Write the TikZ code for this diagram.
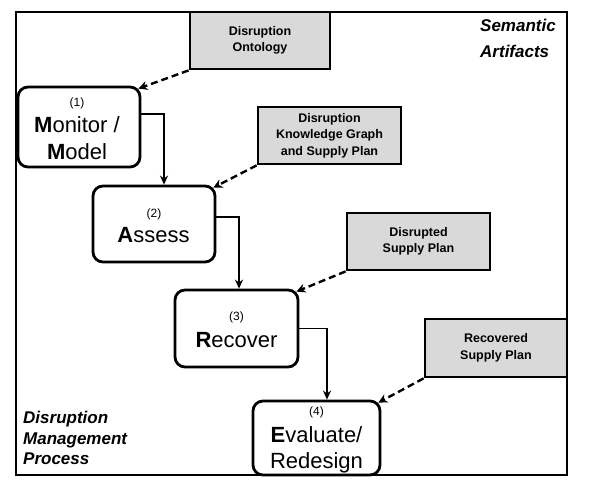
\documentclass[tikz,border=0pt]{standalone}
\usepackage{fontspec}
\setmainfont{Liberation Sans}
\usetikzlibrary{arrows.meta}
\definecolor{artgray}{RGB}{217,217,217}
\tikzset{
  procbox/.style={draw, line width=2.8pt, rounded corners=10pt, rectangle, inner sep=0pt},
  artbox/.style={draw, fill=artgray, line width=2.8pt, rectangle, inner sep=0pt, align=center,
     font=\fontsize{12.5}{16.5}\selectfont\bfseries},
  numtext/.style={anchor=base, inner sep=0pt, font=\fontsize{12}{14}\selectfont},
  proctext/.style={anchor=base, inner sep=0pt, font=\fontsize{22}{26}\selectfont},
  titletext/.style={anchor=base west, inner sep=0pt, font=\fontsize{17}{20}\selectfont\bfseries\itshape},
  flow/.style={-{Stealth[length=9pt,width=8pt]}, line width=1.6pt},
  dflow/.style={-{Stealth[length=9pt,width=9pt]}, line width=2.4pt, dash pattern=on 7pt off 4pt},
  frame/.style={line width=2.8pt}
}
\begin{document}
\begin{tikzpicture}[x=1pt,y=-1pt]
\useasboundingbox (0,0) rectangle (589,484);
% outer frame
\draw[frame] (16,12) rectangle (567,475);
% process boxes
\node[procbox, minimum width=122pt, minimum height=80pt] (mon) at (79,127) {};
\node[procbox, minimum width=122pt, minimum height=76pt] (ass) at (154,224) {};
\node[procbox, minimum width=123pt, minimum height=77pt] (rec) at (236.5,328.5) {};
\node[procbox, minimum width=127pt, minimum height=74pt, fill=white] (eva) at (316.5,438) {};
% process texts
\node[numtext] (mon1) at (77,107) {(1)};
\node[proctext] (mon2) at (77,133) {\textbf{M}onitor /};
\node[proctext] (mon3) at (77,160) {\textbf{M}odel};
\node[numtext] (ass1) at (154,217) {(2)};
\node[proctext] (ass2) at (153.5,242) {\textbf{A}ssess};
\node[numtext] (rec1) at (236.5,320) {(3)};
\node[proctext] (rec2) at (236.5,347) {\textbf{R}ecover};
\node[numtext] (eva1) at (316.5,415) {(4)};
\node[proctext] (eva2) at (316.5,442) {\textbf{E}valuate/};
\node[proctext] (eva3) at (316.5,468) {Redesign};
% artifact boxes
\node[artbox, minimum width=140pt, minimum height=57pt] (ont) at (260,40.5) {Disruption\\Ontology};
\node[artbox, minimum width=143pt, minimum height=57pt] (kg) at (329.5,135.5) {Disruption\\Knowledge Graph\\and Supply Plan};
\node[artbox, minimum width=143pt, minimum height=57pt] (dsp) at (418.5,241.5) {Disrupted\\Supply Plan};
\node[artbox, minimum width=142pt, minimum height=58pt] (rsp) at (496,348) {Recovered\\Supply Plan};
% titles
\node[titletext] (sem1) at (480,32) {Semantic};
\node[titletext] (sem2) at (480,58) {Artifacts};
\node[titletext] (dmp1) at (23,423.5) {Disruption};
\node[titletext] (dmp2) at (23,444) {Management};
\node[titletext] (dmp3) at (23,464.5) {Process};
% solid flow arrows
\draw[flow] ([shift={(0,-13)}]mon.east) -| ([shift={(10,0)}]ass.north);
\draw[flow] ([shift={(0,-7)}]ass.east) -| ([shift={(2.5,0)}]rec.north);
\draw[flow] (rec.east) -| ([shift={(10.5,0)}]eva.north);
% dashed artifact arrows
\draw[dflow] (ont.south west) -- ([shift={(-3,3)}]mon.north east);
\draw[dflow] (kg.south west) -- ([shift={(-3,3)}]ass.north east);
\draw[dflow] (dsp.south west) -- ([shift={(-3,3)}]rec.north east);
\draw[dflow] (rsp.south west) -- ([shift={(-3,3)}]eva.north east);
\end{tikzpicture}
\end{document}
